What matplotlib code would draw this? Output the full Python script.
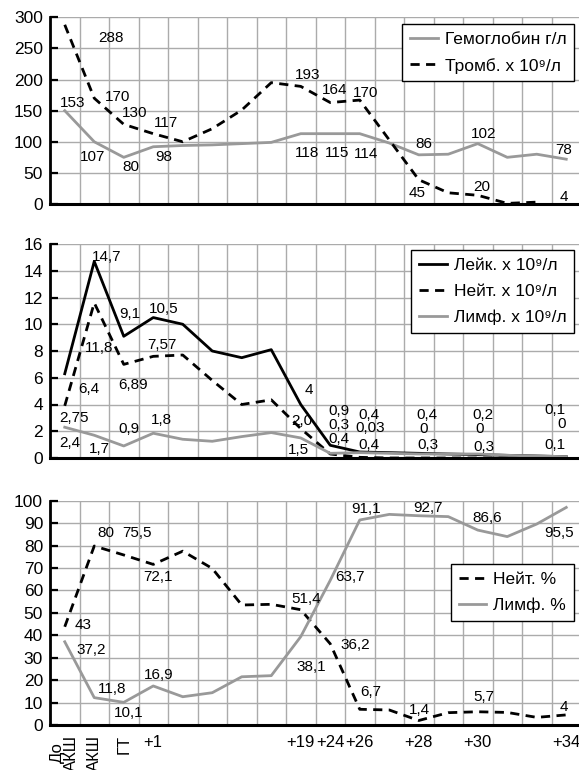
import numpy as np
import matplotlib.pyplot as plt

plt.rcParams["font.family"] = ["Liberation Sans", "DejaVu Sans"]

# Категории по оси X (дни)
categories = ["До\nАКШ", "АКШ", "ГТ", "+1", "", "", "", "", "+19", "+24",
              "+26", "", "+28", "", "+30", "", "", "+34"]

# Верхний график
hb = [150, 100, 75, 92, 94, 95, 97, 99, 113, 113, 113, 98, 79, 80, 97, 75, 80, 72]
tromb = [288, 170, 128, 113, 100, 121, 151, 195, 189, 163, 167, 103, 39, 18, 14,
         1, 3, np.nan]

# Средний график
leuk = [6.3, 14.7, 9.1, 10.5, 10.0, 8.0, 7.5, 8.1, 4.0, 0.95, 0.45, 0.4, 0.35,
        0.3, 0.25, 0.2, 0.15, 0.1]
neut = [3.9, 11.6, 7.0, 7.6, 7.7, 5.8, 4.0, 4.35, 2.2, 0.3, 0.05, 0, 0, 0, 0, 0,
        0, 0]
lymph = [2.3, 1.7, 0.9, 1.85, 1.4, 1.25, 1.6, 1.9, 1.5, 0.35, 0.4, 0.35, 0.3,
         0.3, 0.3, 0.2, 0.15, 0.1]

# Нижний график
neut_pct = [43.8, 79.8, 75.8, 71.6, 77.5, 69.8, 53.5, 53.8, 51.4, 36.2, 7.0, 6.7,
            2.0, 5.5, 5.9, 5.6, 3.4, 4.5]
lymph_pct = [37.1, 12.2, 10.1, 17.4, 12.6, 14.4, 21.5, 22.0, 39.4, 64.5, 91.4,
             93.9, 93.3, 92.9, 86.9, 84.0, 89.6, 97.0]

# Подписи значений: (текст, x, y)
labels_top = [
    ("288", 1.56, 266), ("153", 0.27, 163), ("170", 1.78, 172), ("130", 2.38, 146),
    ("117", 3.42, 130), ("107", 0.95, 75), ("80", 2.23, 60), ("98", 3.34, 75),
    ("193", 8.22, 207), ("164", 9.16, 183), ("170", 10.21, 178),
    ("118", 8.22, 82), ("115", 9.22, 82), ("114", 10.21, 80),
    ("86", 12.18, 96), ("102", 14.2, 112), ("78", 16.92, 86),
    ("45", 11.95, 17), ("20", 14.13, 27), ("4", 16.92, 12),
]
labels_mid = [
    ("14,7", 1.42, 15.05), ("9,1", 2.21, 10.77), ("10,5", 3.36, 11.12),
    ("11,8", 1.17, 8.2), ("7,57", 3.28, 8.46), ("6,4", 0.83, 5.15),
    ("6,89", 2.3, 5.47), ("2,75", 0.31, 2.99), ("0,9", 2.19, 2.16),
    ("1,8", 3.28, 2.81), ("2,4", 0.18, 1.12), ("1,7", 1.17, 0.67),
    ("4", 8.29, 5.1), ("2,0", 8.03, 2.74), ("1,5", 7.92, 0.62),
    ("0,9", 9.31, 3.55), ("0,3", 9.31, 2.5), ("0,4", 9.31, 1.45),
    ("0,4", 10.32, 3.2), ("0,03", 10.37, 2.24), ("0,4", 10.32, 0.95),
    ("0,4", 12.27, 3.2), ("0", 12.18, 2.16), ("0,3", 12.32, 0.95),
    ("0,2", 14.17, 3.2), ("0", 14.08, 2.16), ("0,3", 14.2, 0.82),
    ("0,1", 16.62, 3.56), ("0", 16.84, 2.56), ("0,1", 16.62, 0.95),
]
labels_bot = [
    ("80", 1.4, 85.4), ("75,5", 2.44, 85.4), ("72,1", 3.17, 65.8),
    ("43", 0.61, 44.6), ("37,2", 0.88, 33.4), ("11,8", 1.59, 15.9),
    ("16,9", 3.2, 22.3), ("10,1", 2.16, 5.2), ("51,4", 8.2, 56),
    ("38,1", 8.37, 26), ("63,7", 9.67, 65.8), ("36,2", 9.84, 35.7),
    ("91,1", 10.21, 96.1), ("92,7", 12.32, 96.6), ("86,6", 14.31, 92.4),
    ("95,5", 16.76, 85.4), ("6,7", 10.37, 14.9), ("1,4", 12.02, 6.7),
    ("5,7", 14.2, 12.6), ("4", 16.92, 8.2),
]

GRAY = "#999999"
GRID = "#ababab"
DASH = (0, (3.3, 2.3))

x = np.arange(len(categories))
W, H = 579, 770
fig = plt.figure(figsize=(W / 100, H / 100), dpi=100)


def add_ax(top, bottom):
    return fig.add_axes([50 / W, 1 - bottom / H, 531 / W, (bottom - top) / H])


def style(ax, ymax, ystep):
    ax.set_xlim(-0.5, len(categories) - 0.5)
    ax.set_ylim(0, ymax)
    ax.set_yticks(np.arange(0, ymax + ystep / 2, ystep))
    ax.set_xticks(x)
    ax.set_xticks(np.arange(-0.5, len(categories)), minor=True)
    ax.grid(True, which="minor", axis="x", color=GRID, lw=1)
    ax.grid(True, which="major", axis="y", color=GRID, lw=1)
    ax.set_axisbelow(True)
    ax.tick_params(axis="x", which="both", length=0)
    ax.tick_params(axis="y", direction="in", length=6, width=1.6,
                   labelsize=12.5, pad=5)
    ax.spines["top"].set_visible(False)
    ax.spines["right"].set_visible(False)
    ax.spines["left"].set_linewidth(2)
    ax.spines["bottom"].set_linewidth(2.2)


def put_labels(ax, labels):
    for txt, lx, ly in labels:
        ax.text(lx, ly, txt, ha="center", va="center", fontsize=11)


def legend(ax, top_px):
    ax.legend(loc="upper right", bbox_to_anchor=(574 / W, 1 - top_px / H),
              bbox_transform=fig.transFigure, fontsize=12.5, frameon=True,
              fancybox=False, edgecolor="black", framealpha=1,
              borderpad=0.45, labelspacing=0.62, handlelength=1.6,
              handletextpad=0.4, borderaxespad=0)
    ax.get_legend().get_frame().set_linewidth(1)


# Верх
ax1 = add_ax(17.3, 204)
style(ax1, 300, 50)
ax1.plot(x, hb, color=GRAY, lw=2, label="Гемоглобин г/л")
ax1.plot(x, tromb, color="black", lw=2, linestyle=DASH, label="Тромб. х 10⁹/л")
put_labels(ax1, labels_top)
ax1.tick_params(axis="x", labelbottom=False)
legend(ax1, 24)

# Середина
ax2 = add_ax(244, 458)
style(ax2, 16, 2)
ax2.plot(x, leuk, color="black", lw=2, label="Лейк. х 10⁹/л")
ax2.plot(x, neut, color="black", lw=2, linestyle=DASH, label="Нейт. х 10⁹/л")
ax2.plot(x, lymph, color=GRAY, lw=2, label="Лимф. х 10⁹/л")
put_labels(ax2, labels_mid)
ax2.tick_params(axis="x", labelbottom=False)
legend(ax2, 250)

# Низ
ax3 = add_ax(500.7, 725)
style(ax3, 100, 10)
ax3.plot(x, neut_pct, color="black", lw=2, linestyle=DASH, label="Нейт. %")
ax3.plot(x, lymph_pct, color=GRAY, lw=2, label="Лимф. %")
put_labels(ax3, labels_bot)
ax3.set_xticklabels(categories, fontsize=12)
ax3.tick_params(axis="x", pad=7)
for lab in ax3.get_xticklabels()[:3]:
    lab.set_rotation(90)
    lab.set_linespacing(0.95)
legend(ax3, 564)

fig.savefig("out.png", dpi=100)
